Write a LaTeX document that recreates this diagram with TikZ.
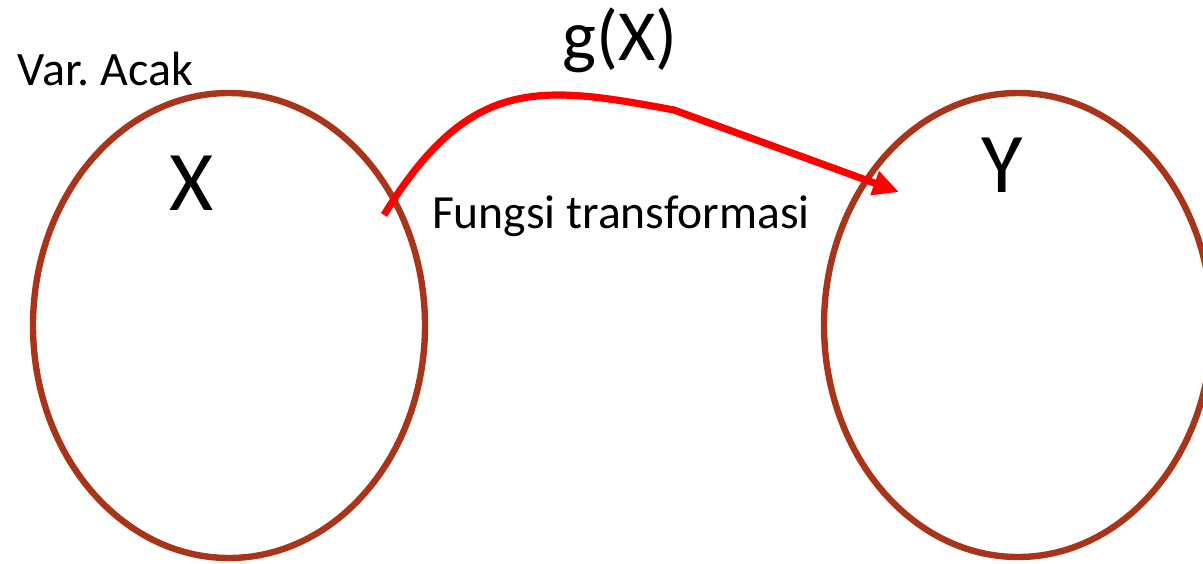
\documentclass[tikz,border=0pt]{standalone}
\usepackage{fontspec}
\setmainfont{Carlito}
\usetikzlibrary{arrows.meta}
\definecolor{setbrown}{RGB}{168,53,26}
\definecolor{mapred}{RGB}{255,0,0}
\tikzset{
  setline/.style={draw=setbrown, line width=3.2pt},
  maparrow/.style={draw=mapred, line width=3.6pt, -{Triangle[length=13pt,width=12pt]}},
  lbl/.style={inner sep=0pt, outer sep=0pt, text=black},
}
\begin{document}
\frenchspacing
\begin{tikzpicture}[x=0.5pt,y=-0.5pt]
\useasboundingbox (0,0) rectangle (1203,563);
\clip (0,0) rectangle (1203,563);
% sets
\draw[setline] (229,325.5) ellipse [x radius=196, y radius=232.5];
\draw[setline] (1018,325) ellipse [x radius=194, y radius=232];
% labels
\node[lbl, anchor=base west, font=\fontsize{24pt}{28pt}\selectfont\frenchspacing] (varacak) at (18,85) {Var. Acak};
\node[lbl, anchor=base, font=\fontsize{42.5pt}{50pt}\selectfont] (xlab) at (192,210) {X};
\node[lbl, anchor=base, font=\fontsize{42.5pt}{50pt}\selectfont] (ylab) at (1002,192) {Y};
\node[lbl, anchor=base, font=\fontsize{36pt}{42pt}\selectfont] (gx) at (620,60) {g(X)};
\node[lbl, anchor=base west, font=\fontsize{23.8pt}{28pt}\selectfont] (fungsi) at (432,228) {Fungsi transformasi};
% mapping arrow
\coordinate (start) at (384,215);
\coordinate (bend) at (674,110);
\coordinate (tip) at (899,192);
\draw[maparrow] (start) .. controls (470,75) and (540,85) .. (bend) -- (tip);
\end{tikzpicture}
\end{document}
